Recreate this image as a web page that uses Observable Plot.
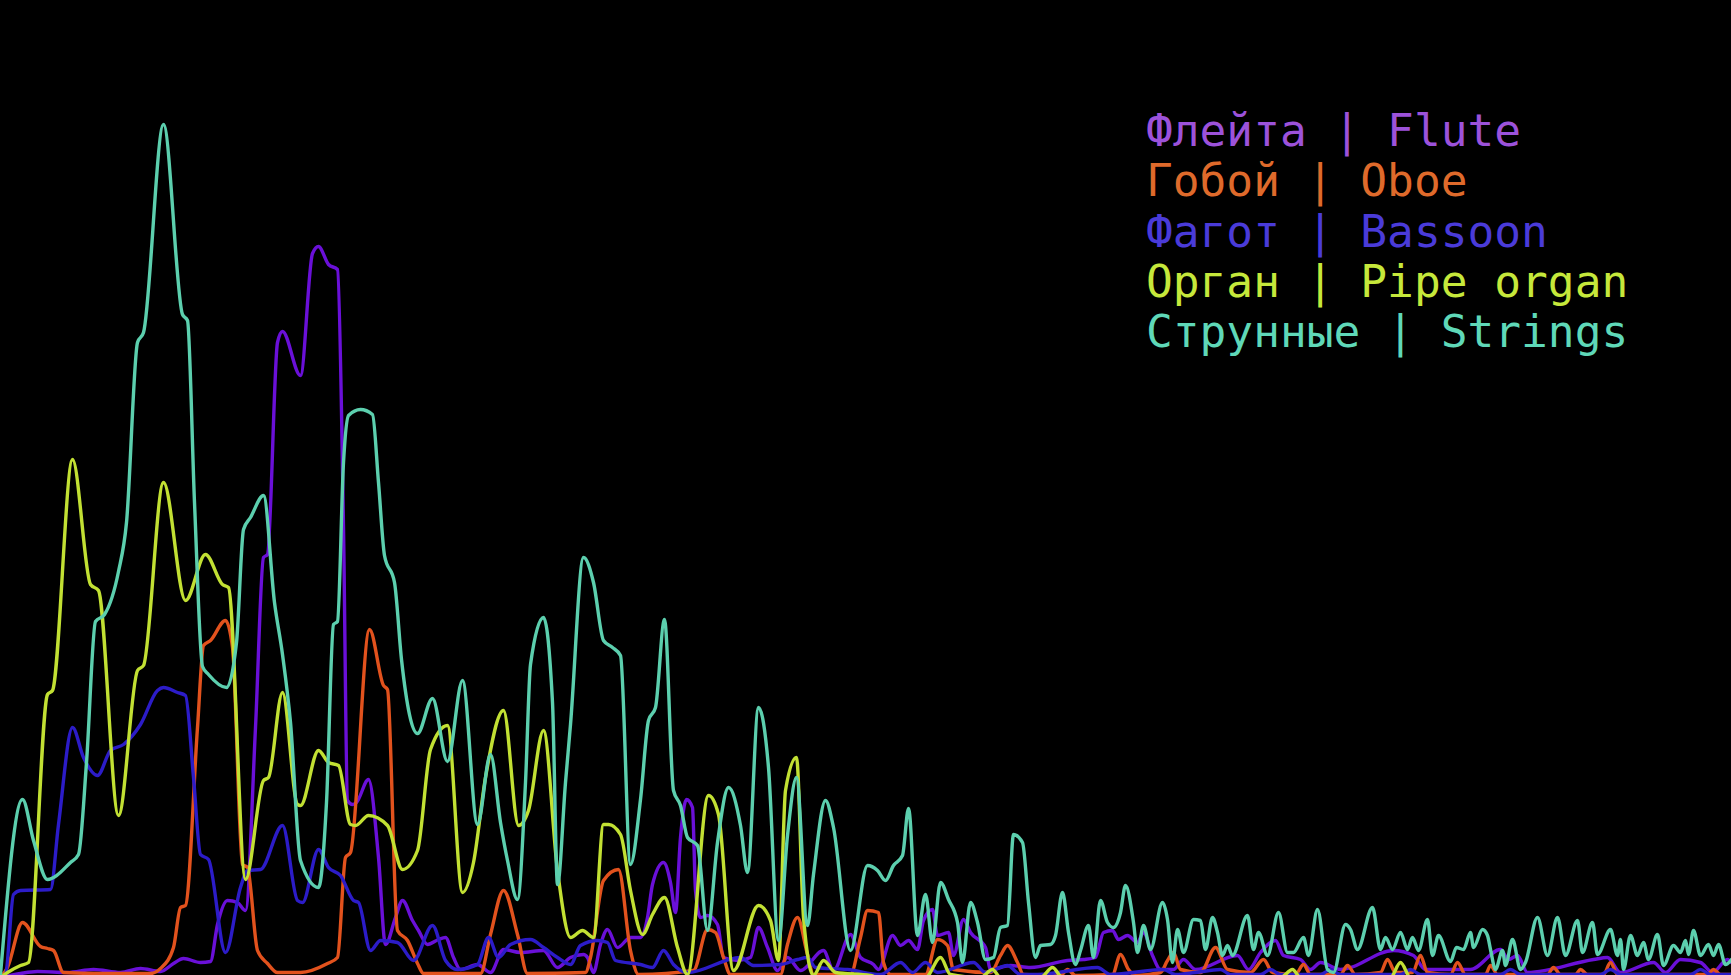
<!DOCTYPE html>
<html>
<head>
<meta charset="utf-8">
<script src="https://cdn.jsdelivr.net/npm/d3@7"></script>
<script src="https://cdn.jsdelivr.net/npm/@observablehq/plot@0.6"></script>
<style>
  html, body { margin: 0; padding: 0; background: #000; overflow: hidden; }
  #wrap { position: relative; width: 1731px; height: 975px; }
  #legend { position: absolute; left: 1146px; top: 106px; font-family: "DejaVu Sans Mono", monospace; font-size: 44.5px; line-height: 50.3px; white-space: pre; }
</style>
</head>
<body>
<div id="wrap"><div id="chart"></div><div id="legend"></div></div>
<script>
// Instruments (legend order) and their colors
const instruments = ["Флейта | Flute", "Гобой | Oboe", "Фагот | Bassoon", "Орган | Pipe organ", "Струнные | Strings"];
const lineColors = ["#6a10d8", "#e2521d", "#2c1cc8", "#c2e033", "#5ccfae"];
const legendColors = ["#9c52da", "#df6a2b", "#4a3bd9", "#c6e83b", "#5fd8b8"];

// [frequency bin, level] pairs
const flute = [[0,0],[20,4],[37,6],[67,5],[93,8],[120,5],[140,9],[160,6],[173,14],[183,19],[200,15],[210,16],[217,53],[227,77],[237,75],[245,67],[255,250],[263,420],[267,423],[277,635],[282,646],[300,602],[312,724],[318,731],[328,713],[337,708],[343,450],[347,177],[352,173],[356,175],[368,198],[378,120],[385,33],[395,60],[402,77],[412,57],[418,47],[427,33],[438,38],[445,40],[453,20],[460,8],[477,13],[490,5],[503,28],[520,25],[543,27],[557,10],[570,20],[583,23],[587,20],[593,5],[600,33],[607,48],[617,30],[630,40],[640,40],[647,60],[652,93],[663,115],[670,95],[675,65],[680,140],[686,178],[692,170],[695,87],[700,60],[707,62],[717,53],[723,20],[737,17],[750,20],[758,50],[767,30],[777,7],[787,20],[800,7],[823,27],[833,7],[850,43],[860,20],[873,13],[878,8],[892,42],[900,32],[908,37],[917,28],[923,57],[932,68],[937,42],[948,45],[953,22],[963,58],[970,45],[985,30],[990,8],[1010,12],[1030,10],[1067,17],[1083,18],[1095,20],[1103,45],[1112,47],[1118,38],[1127,42],[1137,35],[1143,45],[1152,22],[1160,8],[1173,8],[1183,18],[1195,8],[1237,22],[1248,8],[1260,25],[1275,37],[1283,22],[1300,18],[1310,8],[1320,15],[1340,8],[1393,27],[1413,22],[1425,8],[1470,8],[1500,28],[1508,18],[1517,22],[1527,5],[1593,18],[1607,20],[1620,5],[1653,15],[1665,5],[1680,18],[1700,15],[1712,5],[1727,18],[1731,15]];

const oboe = [[0,0],[7,10],[22,55],[40,31],[47,29],[53,27],[63,5],[100,4],[150,4],[160,9],[173,30],[180,70],[185,72],[197,250],[203,332],[210,337],[225,357],[232,330],[242,113],[247,110],[257,27],[267,14],[277,5],[300,5],[327,14],[337,20],[345,120],[350,125],[369,348],[383,292],[387,288],[397,47],[407,37],[417,14],[423,4],[480,4],[490,43],[503,87],[517,43],[527,4],[585,5],[590,20],[603,97],[618,108],[630,27],[638,3],[693,7],[707,48],[715,45],[723,20],[730,3],[780,3],[787,33],[797,60],[807,23],[813,3],[850,3],[860,40],[867,67],[878,65],[883,15],[890,3],[925,3],[937,38],[947,32],[953,8],[990,5],[1000,22],[1007,32],[1017,15],[1023,3],[1060,2],[1067,8],[1075,2],[1112,3],[1120,23],[1128,8],[1135,2],[1160,5],[1167,17],[1173,25],[1180,8],[1200,5],[1215,30],[1227,8],[1250,5],[1263,18],[1272,5],[1295,3],[1303,13],[1310,3],[1340,3],[1347,12],[1355,3],[1380,5],[1387,18],[1395,5],[1412,5],[1420,22],[1427,5],[1450,3],[1457,15],[1465,3],[1485,3],[1490,12],[1497,3],[1547,3],[1553,10],[1560,3],[1575,3],[1580,8],[1587,3],[1603,3],[1610,15],[1617,3],[1707,3],[1713,8],[1720,3],[1731,3]];

const bassoon = [[0,0],[5,3],[13,83],[20,87],[50,88],[58,153],[72,250],[83,220],[97,202],[110,227],[123,233],[140,253],[157,287],[163,290],[177,285],[185,282],[193,200],[200,123],[208,118],[225,25],[240,90],[247,107],[260,108],[282,152],[297,77],[302,75],[318,128],[328,110],[340,102],[353,77],[358,75],[370,27],[380,37],[397,35],[413,17],[432,52],[445,17],[457,8],[477,13],[488,40],[498,20],[510,33],[530,38],[543,30],[557,20],[570,13],[580,32],[597,37],[607,35],[615,17],[640,13],[652,10],[663,27],[673,13],[687,5],[740,20],[753,12],[780,13],[797,18],[807,20],[815,10],[847,8],[880,3],[900,15],[912,5],[925,15],[937,5],[973,15],[985,5],[1007,12],[1020,3],[1037,3],[1097,10],[1110,3],[1163,8],[1175,3],[1195,5],[1220,8],[1230,3],[1260,3],[1270,8],[1280,3],[1320,3],[1330,8],[1340,3],[1400,3],[1410,8],[1420,3],[1500,3],[1510,8],[1520,3],[1600,3],[1610,8],[1620,3],[1690,3],[1700,8],[1710,3],[1731,3]];

const organ = [[0,0],[7,5],[20,12],[28,15],[47,283],[52,287],[72,518],[90,393],[98,387],[118,162],[137,307],[143,312],[163,495],[185,377],[205,423],[222,393],[228,390],[245,98],[263,197],[268,200],[282,285],[297,173],[300,172],[318,227],[328,215],[338,212],[350,153],[355,152],[368,162],[387,152],[402,108],[417,127],[430,228],[447,252],[462,85],[473,115],[485,200],[503,267],[518,152],[528,167],[543,247],[557,107],[570,40],[582,47],[593,40],[603,153],[608,153],[620,143],[630,87],[642,43],[652,63],[664,80],[677,30],[687,3],[708,182],[718,163],[733,7],[758,72],[770,57],[778,17],[785,187],[796,220],[803,60],[813,2],[823,17],[835,5],[870,2],[877,0],[925,0],[940,20],[950,3],[980,0],[992,8],[1000,0],[1040,0],[1052,10],[1062,0],[1280,0],[1292,8],[1300,0],[1390,0],[1400,15],[1410,0],[1731,0]];

const strings = [[0,3],[22,178],[33,137],[47,98],[70,115],[78,123],[86,215],[95,356],[104,363],[118,406],[126,455],[137,635],[143,645],[163,853],[182,663],[187,657],[194,475],[202,311],[208,303],[226,290],[236,335],[243,448],[250,460],[263,482],[274,375],[282,323],[290,255],[300,117],[318,90],[326,175],[333,353],[337,356],[343,515],[348,562],[360,568],[372,563],[378,495],[384,422],[394,395],[401,318],[417,244],[432,279],[447,216],[462,297],[477,153],[490,223],[500,155],[507,117],[517,78],[525,195],[530,313],[543,360],[552,275],[557,93],[565,195],[570,253],[583,420],[593,395],[603,337],[612,330],[620,322],[630,113],[640,178],[648,257],[655,270],[664,358],[673,187],[680,172],[687,140],[697,132],[707,47],[717,135],[728,190],[740,152],[747,105],[758,270],[768,210],[778,37],[787,142],[796,200],[807,52],[813,103],[825,177],[833,150],[850,27],[867,112],[877,107],[885,97],[893,112],[902,122],[908,169],[917,42],[925,83],[932,35],[940,95],[948,78],[957,55],[962,15],[970,75],[977,55],[985,18],[993,20],[1000,50],[1007,52],[1013,143],[1022,135],[1028,75],[1035,20],[1040,32],[1050,33],[1055,42],[1062,85],[1068,45],[1075,13],[1080,27],[1088,52],[1093,20],[1100,77],[1107,55],[1113,50],[1120,65],[1125,92],[1133,55],[1137,25],[1143,52],[1150,28],[1162,75],[1167,58],[1172,15],[1177,48],[1183,25],[1193,58],[1200,57],[1205,28],[1212,60],[1217,45],[1222,22],[1227,32],[1232,22],[1247,62],[1253,28],[1258,45],[1267,22],[1278,65],[1287,25],[1293,25],[1303,40],[1308,22],[1317,68],[1327,8],[1333,5],[1345,53],[1350,48],[1357,28],[1372,70],[1380,28],[1385,40],[1392,28],[1400,45],[1407,28],[1412,40],[1418,27],[1427,58],[1432,22],[1438,42],[1450,16],[1456,30],[1463,28],[1470,45],[1473,30],[1482,48],[1487,42],[1490,28],[1495,8],[1502,27],[1505,12],[1512,38],[1520,8],[1525,15],[1537,60],[1547,22],[1557,60],[1565,22],[1577,57],[1582,25],[1592,55],[1597,23],[1610,48],[1617,22],[1620,38],[1623,8],[1630,42],[1637,22],[1643,35],[1648,18],[1657,43],[1663,12],[1673,32],[1680,25],[1685,37],[1688,23],[1693,47],[1700,22],[1708,33],[1713,22],[1718,33],[1725,13],[1731,18]];

const seriesData = [flute, oboe, bassoon, organ, strings];

const rows = seriesData.flatMap((pts, i) =>
  pts.map(([bin, level]) => ({instrument: instruments[i], bin, level}))
);

const chart = Plot.plot({
  width: 1731,
  height: 975,
  margin: 0,
  style: {background: "#000", overflow: "hidden"},
  x: {domain: [0, 1731], axis: null},
  y: {domain: [0, 975], range: [977, 2], axis: null},
  color: {domain: instruments, range: lineColors},
  marks: [
    Plot.line(rows, {x: "bin", y: "level", z: "instrument", stroke: "instrument", strokeWidth: 3.4, curve: "monotone-x"})
  ]
});
document.getElementById("chart").appendChild(chart);

const legend = document.getElementById("legend");
instruments.forEach((name, i) => {
  const d = document.createElement("div");
  d.textContent = name;
  d.style.color = legendColors[i];
  legend.appendChild(d);
});
</script>
</body>
</html>
